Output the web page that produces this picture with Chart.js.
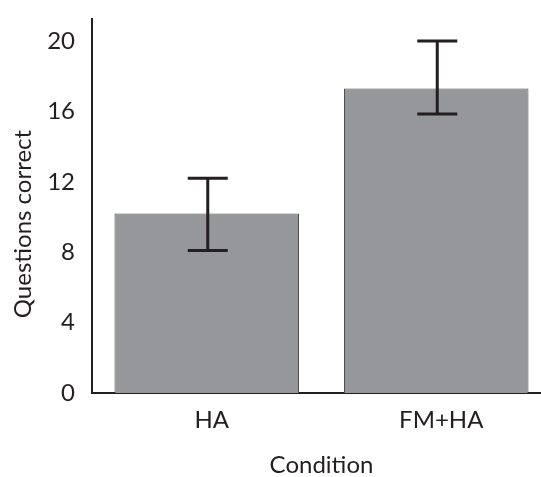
<!DOCTYPE html>
<html>
<head>
<meta charset="utf-8">
<script src="https://cdn.jsdelivr.net/npm/chart.js@4"></script>
<style>
    html, body { margin: 0; padding: 0; background: #fff; overflow: hidden; }
    #wrap { width: 551px; height: 477px; }
</style>
</head>
<body>
<div id="wrap"><canvas id="barChart" width="551" height="477"></canvas></div>
<script>
// Data
const conditions = ['HA', 'FM+HA'];
const meanCorrect = [10.2, 17.3];
const errorUpper = [12.2, 20.0];
const errorLower = [8.1, 15.85];
const yTicks = [0, 4, 8, 12, 16, 20];
const yTitle = 'Questions correct';

const textColor = '#231f20';
const fontFamily = 'Lato, "Open Sans", sans-serif';

// Draws the error bars with caps over each bar
const errorBars = {
    id: 'errorBars',
    afterDatasetsDraw(chart) {
        const ctx = chart.ctx;
        const x = chart.scales.x;
        const y = chart.scales.y;
        ctx.save();
        ctx.strokeStyle = textColor;
        ctx.lineWidth = 3;
        for (let i = 0; i < conditions.length; i++) {
            const cx = x.getPixelForValue(i) + 1;
            const top = y.getPixelForValue(errorUpper[i]);
            const bottom = y.getPixelForValue(errorLower[i]);
            ctx.beginPath();
            ctx.moveTo(cx, top);
            ctx.lineTo(cx, bottom);
            ctx.moveTo(cx - 20, top);
            ctx.lineTo(cx + 20, top);
            ctx.moveTo(cx - 20, bottom);
            ctx.lineTo(cx + 20, bottom);
            ctx.stroke();
        }
        ctx.restore();
    }
};

// y axis title sits a bit below the middle of the axis in the original
const yAxisTitle = {
    id: 'yAxisTitle',
    afterDraw(chart) {
        const ctx = chart.ctx;
        const area = chart.chartArea;
        ctx.save();
        ctx.translate(23, (area.top + area.bottom) / 2 + 18);
        ctx.rotate(-Math.PI / 2);
        ctx.fillStyle = textColor;
        ctx.font = '24px ' + fontFamily;
        ctx.textAlign = 'center';
        ctx.textBaseline = 'middle';
        ctx.fillText(yTitle, 0, 0);
        ctx.restore();
    }
};

const barData = {
    labels: conditions,
    datasets: [{
        data: meanCorrect,
        backgroundColor: '#96979a',
        borderColor: '#4d4d4f',
        borderWidth: 1,
        categoryPercentage: 1,
        barPercentage: 0.804,
    }]
};

const options = {
    responsive: false,
    maintainAspectRatio: false,
    animation: false,
    layout: {
        padding: { top: 19, left: 0, right: 0, bottom: 0 }
    },
    plugins: {
        legend: { display: false },
        tooltip: { enabled: false },
    },
    scales: {
        x: {
            grid: { display: false, drawTicks: false },
            border: { display: true, color: textColor, width: 2 },
            ticks: {
                color: textColor,
                padding: 13,
                labelOffset: 5,
                font: { family: fontFamily, size: 24 },
            },
            title: {
                display: true,
                text: 'Condition',
                color: textColor,
                padding: { top: 0, bottom: 0 },
                font: { family: fontFamily, size: 24, lineHeight: 1.0 },
            },
            afterFit(scale) { scale.height = 84; },
        },
        y: {
            min: 0,
            max: 21.25,
            grid: { display: false, drawTicks: false },
            border: { display: true, color: textColor, width: 2 },
            ticks: {
                color: textColor,
                padding: 17,
                font: { family: fontFamily, size: 24 },
            },
            afterBuildTicks(axis) {
                axis.ticks = yTicks.map(v => ({ value: v }));
            },
            afterFit(scale) {
                scale.width = 92;
                scale.paddingTop = 0;
                scale.paddingBottom = 0;
            },
        }
    }
};

const ctx = document.getElementById('barChart').getContext('2d');
new Chart(ctx, {
    type: 'bar',
    data: barData,
    options: options,
    plugins: [errorBars, yAxisTitle],
});
</script>
</body>
</html>
